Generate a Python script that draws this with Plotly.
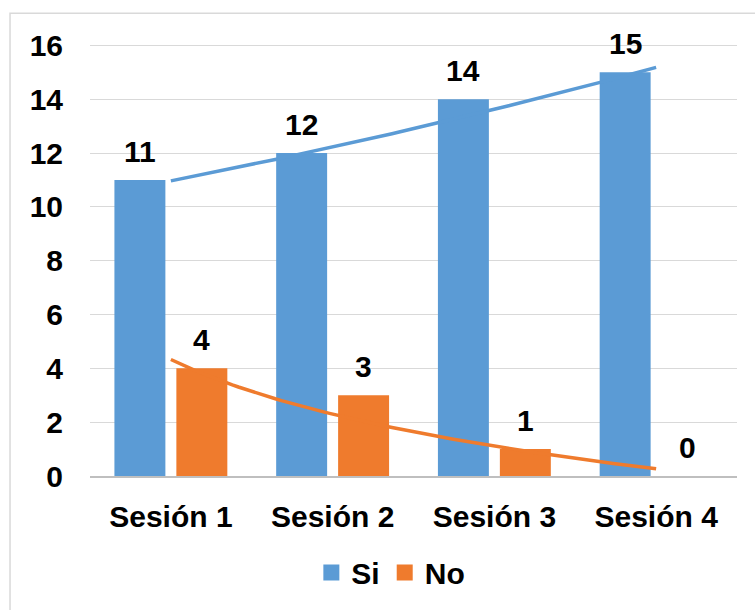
import numpy as np
import plotly.graph_objects as go

# Data
categories = ["Sesión 1", "Sesión 2", "Sesión 3", "Sesión 4"]
si_values = [11, 12, 14, 15]
no_values = [4, 3, 1, 0]

SI_COLOR = "#5B9BD5"
NO_COLOR = "#EF7B2D"
FONT = "Liberation Sans, Arial, sans-serif"
BOLD = dict(family=FONT, size=30, color="#000000", weight="bold")

x_pos = np.arange(1, len(categories) + 1)

# Bar geometry in category units
bar_w = 0.315
inner_gap = 0.068
si_offset = -(inner_gap / 2 + bar_w)
no_offset = inner_gap / 2

# Trend lines: exponential fit for "Si", logarithmic fit for "No"
xs = np.linspace(1, len(categories), 80)
b_exp, a_exp = np.polyfit(x_pos, np.log(si_values), 1)
si_trend = np.exp(a_exp + b_exp * xs)
b_log, a_log = np.polyfit(np.log(x_pos), no_values, 1)
no_trend = a_log + b_log * np.log(xs)

fig = go.Figure()

fig.add_trace(go.Bar(
    x=x_pos, y=si_values, width=bar_w, offset=si_offset,
    marker=dict(color=SI_COLOR, line=dict(width=0)),
    showlegend=False, hoverinfo="y",
))
fig.add_trace(go.Bar(
    x=x_pos, y=no_values, width=bar_w, offset=no_offset,
    marker=dict(color=NO_COLOR, line=dict(width=0)),
    showlegend=False, hoverinfo="y",
))

fig.add_trace(go.Scatter(
    x=xs, y=si_trend, mode="lines",
    line=dict(color=SI_COLOR, width=3.5), showlegend=False, hoverinfo="skip",
))
fig.add_trace(go.Scatter(
    x=xs, y=no_trend, mode="lines",
    line=dict(color=NO_COLOR, width=3.5), showlegend=False, hoverinfo="skip",
))

# Legend entries
for name, color in [("Si", SI_COLOR), ("No", NO_COLOR)]:
    fig.add_trace(go.Scatter(
        x=[None], y=[None], mode="markers", name=name,
        marker=dict(symbol="square", size=16, color=color),
    ))

# Value labels above each bar
annotations = []
for xv, v in zip(x_pos, si_values):
    annotations.append(dict(
        x=xv + si_offset + bar_w / 2, y=v, text=str(v), showarrow=False,
        yanchor="bottom", yshift=10, font=BOLD,
    ))
for xv, v in zip(x_pos, no_values):
    annotations.append(dict(
        x=xv + no_offset + bar_w / 2, y=v, text=str(v), showarrow=False,
        yanchor="bottom", yshift=10, font=BOLD,
    ))

fig.update_layout(
    width=755, height=610,
    margin=dict(l=90, r=18, t=44, b=132),
    paper_bgcolor="white", plot_bgcolor="white",
    font=BOLD,
    barmode="overlay",
    annotations=annotations,
    legend=dict(
        orientation="h", x=0.465, xanchor="center", y=-0.163, yanchor="top",
        font=BOLD, itemwidth=30, tracegroupgap=0,
    ),
    shapes=[dict(
        type="rect", xref="paper", yref="paper",
        x0=-0.1236, x1=1.2, y0=-0.5, y1=1.0714,
        line=dict(color="#D9D9D9", width=1.5), fillcolor="rgba(0,0,0,0)",
        layer="below",
    )],
)

fig.update_xaxes(
    range=[0.5, len(categories) + 0.5],
    tickvals=list(x_pos), ticktext=categories,
    showgrid=False, zeroline=False,
    showline=True, linecolor="#BFBFBF", linewidth=1.5,
    ticks="", ticklabelstandoff=13,
    tickfont=BOLD,
)
fig.update_yaxes(
    range=[0, 16.05], dtick=2, tick0=0,
    showgrid=True, gridcolor="#D9D9D9", gridwidth=1.2,
    zeroline=False, showline=False,
    ticks="", ticklabelstandoff=26,
    tickfont=BOLD,
)

fig.write_html("out.html")
